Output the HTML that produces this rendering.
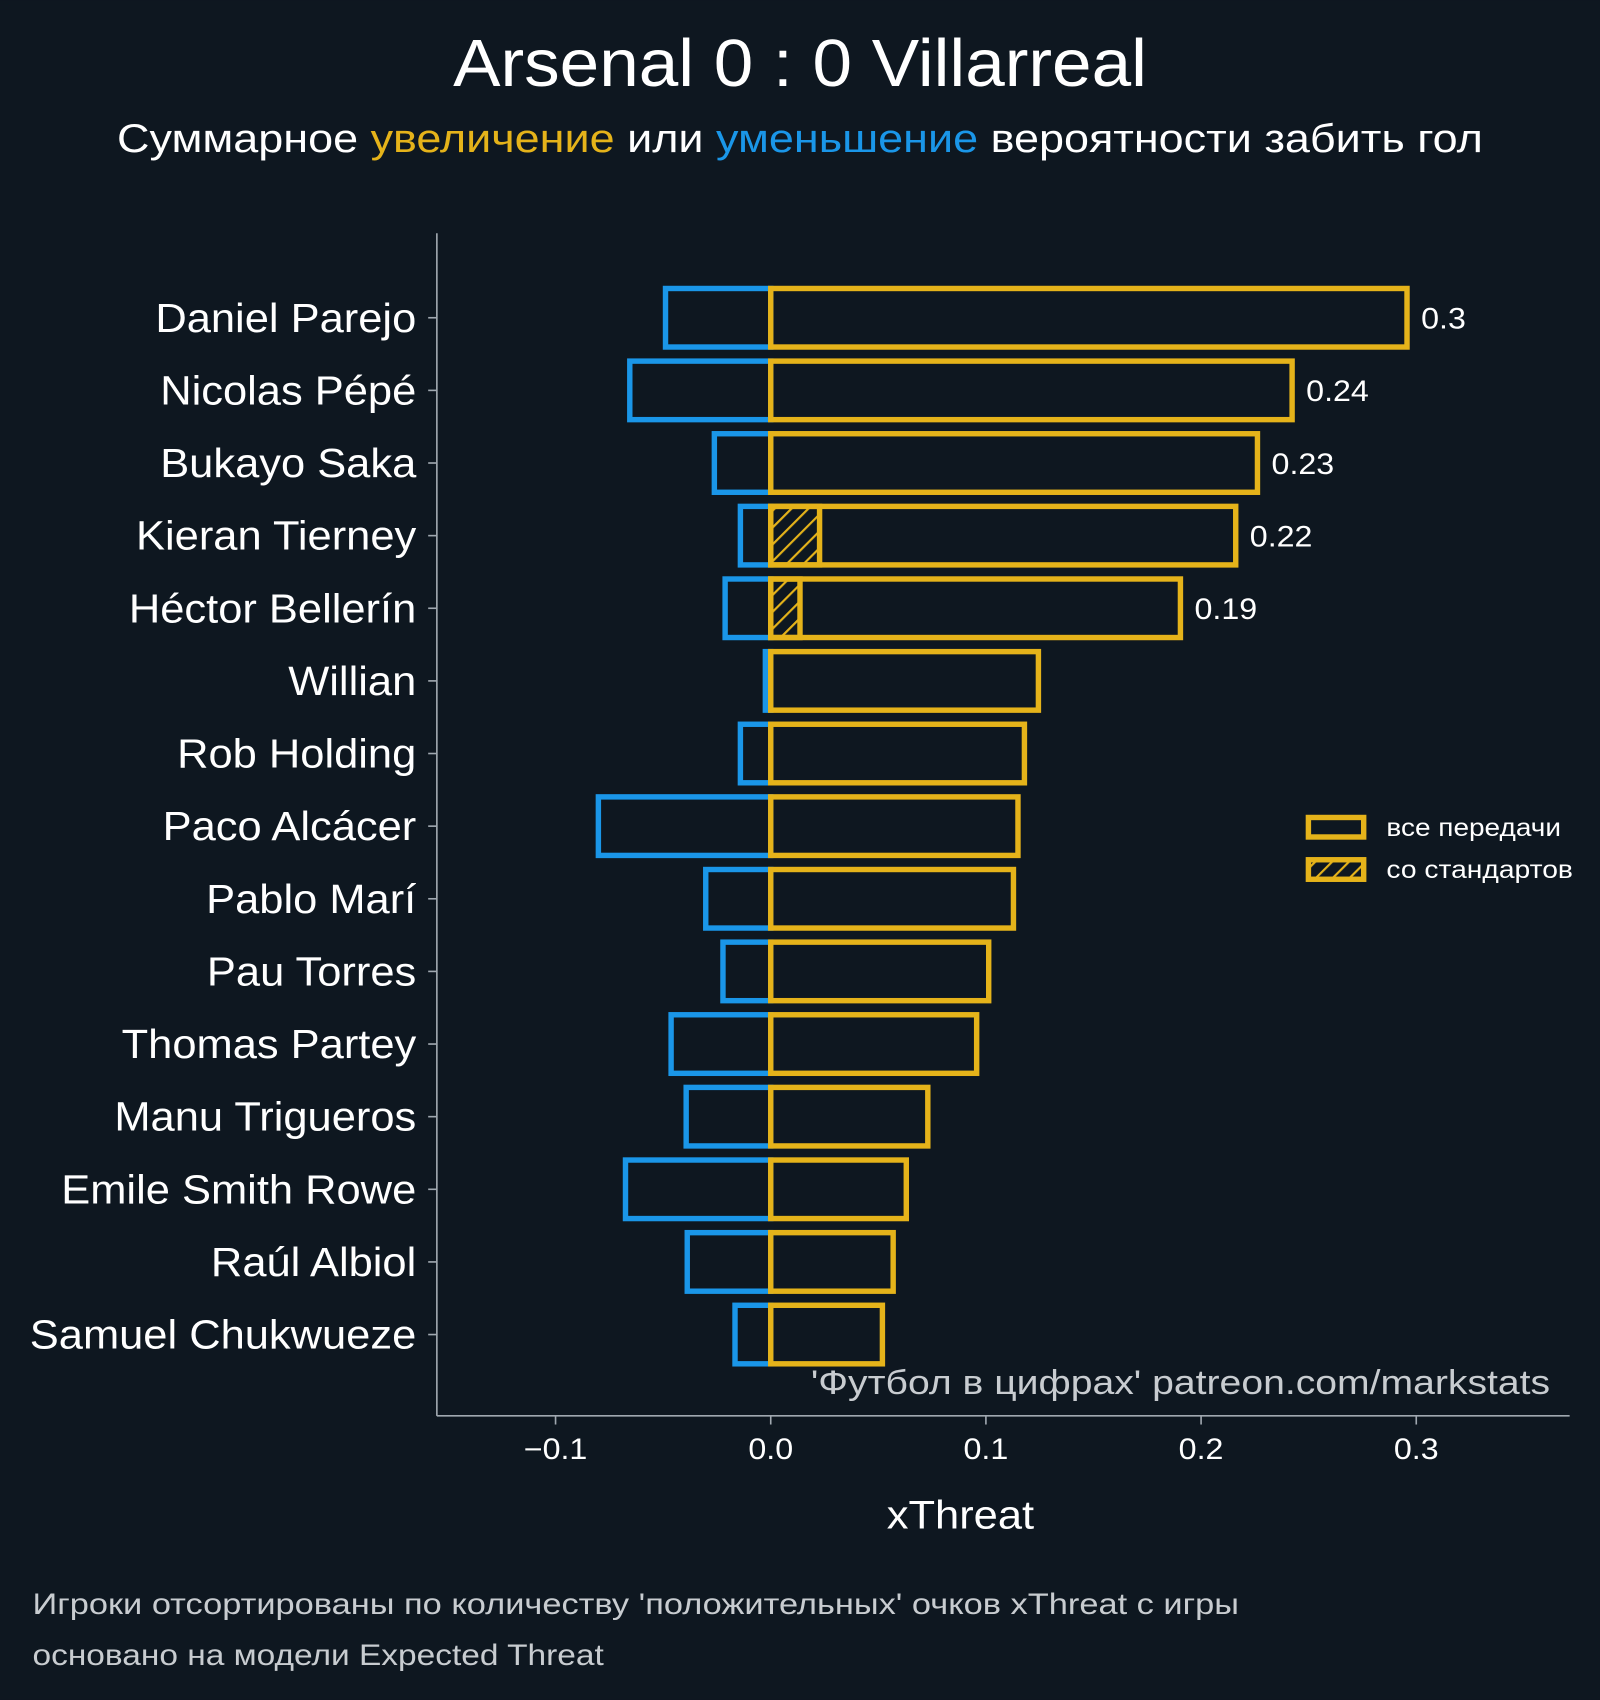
<!DOCTYPE html>
<html><head><meta charset="utf-8">
<style>
html,body{margin:0;padding:0;background:#0e1720;}
svg{display:block;}
text{font-family:"Liberation Sans",sans-serif;fill:#ffffff;}
</style></head>
<body>
<svg id="chart" width="1600" height="1700" viewBox="0 0 1476 1568" xmlns="http://www.w3.org/2000/svg">
<defs>
<pattern id="hatch" patternUnits="userSpaceOnUse" width="11" height="11" patternTransform="rotate(45)">
<rect width="11" height="11" fill="#0e1720"/>
<line x1="0" y1="0" x2="0" y2="11" stroke="#e5b31a" stroke-width="4"/>
</pattern>
</defs>
<rect width="1476" height="1568" fill="#0e1720"/>
<text x="738" y="79" text-anchor="middle" font-size="62" textLength="640" lengthAdjust="spacingAndGlyphs">Arsenal 0 : 0 Villarreal</text>
<text x="738" y="140" text-anchor="middle" font-size="37" textLength="1260" lengthAdjust="spacingAndGlyphs">Суммарное <tspan style="fill:#e5b31a">увеличение</tspan> или <tspan style="fill:#1a96e8">уменьшение</tspan> вероятности забить гол</text>
<g id="bars"></g>
<g id="axes">
<line x1="403" y1="215" x2="403" y2="1306" stroke="#a0a8b0" stroke-width="1.5"/>
<line x1="403" y1="1306" x2="1448" y2="1306" stroke="#a0a8b0" stroke-width="1.5"/>
</g>
<text x="886" y="1410" text-anchor="middle" font-size="37" textLength="136" lengthAdjust="spacingAndGlyphs">xThreat</text>
<text x="748" y="1286" font-size="32" textLength="682" lengthAdjust="spacingAndGlyphs" style="fill:#c8ccd0">'Футбол в цифрах' patreon.com/markstats</text>
<g>
<rect x="1207" y="754" width="51" height="18" fill="none" stroke="#e5b31a" stroke-width="5"/>
<text x="1279" y="771" font-size="23" textLength="161" lengthAdjust="spacingAndGlyphs">все передачи</text>
<rect x="1207" y="793" width="51" height="18" fill="url(#hatch)" stroke="#e5b31a" stroke-width="5"/>
<text x="1279" y="810" font-size="23" textLength="172" lengthAdjust="spacingAndGlyphs">со стандартов</text>
</g>
<text x="30" y="1489" font-size="27" textLength="1113" lengthAdjust="spacingAndGlyphs" style="fill:#c8ccd0">Игроки отсортированы по количеству 'положительных' очков xThreat с игры</text>
<text x="30" y="1536" font-size="27" textLength="527" lengthAdjust="spacingAndGlyphs" style="fill:#c8ccd0">основано на модели Expected Threat</text>
</svg>
<script>
const players = ["Daniel Parejo","Nicolas Pépé","Bukayo Saka","Kieran Tierney","Héctor Bellerín","Willian","Rob Holding","Paco Alcácer","Pablo Marí","Pau Torres","Thomas Partey","Manu Trigueros","Emile Smith Rowe","Raúl Albiol","Samuel Chukwueze"];
const positiveValues = [0.2957,0.2423,0.2262,0.2161,0.1904,0.1244,0.1179,0.1149,0.1128,0.1013,0.0957,0.0730,0.0630,0.0569,0.0519];
const negativeValues = [-0.0489,-0.0655,-0.0262,-0.0141,-0.0212,-0.0025,-0.0141,-0.0801,-0.0302,-0.0222,-0.0463,-0.0393,-0.0675,-0.0388,-0.0166];
const setPieceValues = [0,0,0,0.0227,0.0136,0,0,0,0,0,0,0,0,0,0];
const valueLabels = ["0.3","0.24","0.23","0.22","0.19"];
const xTicks = [-0.1,0.0,0.1,0.2,0.3];
const xTickLabels = ["\u22120.1","0.0","0.1","0.2","0.3"];

const NS = "http://www.w3.org/2000/svg";
const barsG = document.getElementById("bars");
const axesG = document.getElementById("axes");
const x = v => 711 + v * 1985;
const rowY = i => 293 + i * 67;
const BH = 54;
function mk(tag, attrs, parent){const e=document.createElementNS(NS,tag);for(const k in attrs)e.setAttribute(k,attrs[k]);parent.appendChild(e);return e;}
function widen(el, f){const w=el.getComputedTextLength();el.setAttribute("textLength",(w*f).toFixed(1));el.setAttribute("lengthAdjust","spacingAndGlyphs");}

players.forEach((p,i)=>{
  const yc = rowY(i);
  const neg = mk("rect",{x:x(negativeValues[i]),y:yc-BH/2,width:x(0)-x(negativeValues[i]),height:BH,fill:"none",stroke:"#1a96e8","stroke-width":5},barsG);
  
  
  if(setPieceValues[i]>0){
    const sp = mk("rect",{x:x(0),y:yc-BH/2,width:x(setPieceValues[i])-x(0),height:BH,fill:"url(#hatch)",stroke:"#e5b31a","stroke-width":5},barsG);
    
    
  }
  const pos = mk("rect",{x:x(0),y:yc-BH/2,width:x(positiveValues[i])-x(0),height:BH,fill:"none",stroke:"#e5b31a","stroke-width":5},barsG);
  
  
  if(i<valueLabels.length){
    const vl = mk("text",{x:x(positiveValues[i])+13,y:yc+10,"font-size":27},barsG);
    vl.textContent = valueLabels[i];
    
    
    widen(vl,1.1);
  }
  const t = mk("line",{x1:395,y1:yc,x2:403,y2:yc,stroke:"#a0a8b0","stroke-width":1.5},axesG);
  
  
  const lb = mk("text",{x:384,y:yc+13,"text-anchor":"end","font-size":38},axesG);
  lb.textContent = p;
  
  
  widen(lb,1.055);
});
xTicks.forEach((v,i)=>{
  const t = mk("line",{x1:x(v),y1:1306,x2:x(v),y2:1314,stroke:"#a0a8b0","stroke-width":1.5},axesG);
  
  
  const lb = mk("text",{x:x(v),y:1346,"text-anchor":"middle","font-size":27},axesG);
  lb.textContent = xTickLabels[i];
  
  
  widen(lb,1.1);
});
</script>
</body></html>
